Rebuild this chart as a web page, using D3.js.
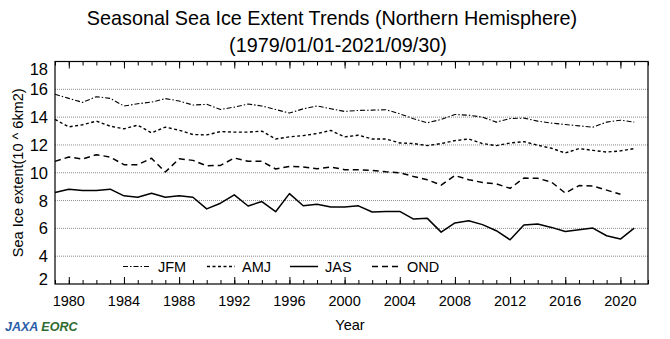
<!DOCTYPE html>
<html>
<head>
<meta charset="utf-8">
<script src="https://cdn.jsdelivr.net/npm/d3@7"></script>
<style>
  body { margin: 0; background: #fff; }
  svg text { font-family: "Liberation Sans", Arial, Helvetica, sans-serif; fill: #000; }
</style>
</head>
<body>
<div id="seaIceGraph"></div>
<script>
// Seasonal mean sea ice extent, Northern Hemisphere (10^6 km2)
var seaIceYears = d3.range(1979, 2022);

var seaIceJFM = [15.64, 15.35, 15.06, 15.47, 15.35, 14.80, 14.96, 15.08, 15.33, 15.16,
  14.87, 14.92, 14.55, 14.72, 14.94, 14.80, 14.55, 14.29, 14.60, 14.80,
  14.60, 14.41, 14.48, 14.50, 14.53, 14.24, 13.88, 13.59, 13.83, 14.19,
  14.14, 14.00, 13.64, 13.90, 13.93, 13.71, 13.57, 13.47, 13.37, 13.28,
  13.64, 13.78, 13.64];

var seaIceAMJ = [13.83, 13.30, 13.45, 13.71, 13.35, 13.16, 13.42, 12.87, 13.28, 13.06,
  12.75, 12.72, 12.96, 12.92, 12.92, 12.99, 12.43, 12.58, 12.67, 12.82,
  13.04, 12.58, 12.70, 12.43, 12.43, 12.14, 12.10, 11.95, 12.10, 12.31,
  12.43, 12.10, 11.95, 12.14, 12.24, 11.98, 11.76, 11.42, 11.74, 11.61,
  11.49, 11.57, 11.74];

var seaIceJAS = [8.58, 8.82, 8.72, 8.72, 8.82, 8.34, 8.24, 8.53, 8.24, 8.34,
  8.24, 7.40, 7.81, 8.41, 7.61, 7.93, 7.20, 8.50, 7.63, 7.73,
  7.54, 7.54, 7.62, 7.18, 7.22, 7.22, 6.67, 6.72, 5.73, 6.39,
  6.55, 6.27, 5.83, 5.18, 6.24, 6.31, 6.07, 5.78, 5.90, 6.02,
  5.47, 5.23, 6.02];

// OND 2021 not available yet
var seaIceOND = [10.82, 11.13, 10.99, 11.30, 11.13, 10.58, 10.58, 11.04, 10.05, 11.01,
  10.89, 10.50, 10.53, 11.06, 10.82, 10.82, 10.27, 10.46, 10.41, 10.29,
  10.41, 10.22, 10.22, 10.17, 10.07, 10.00, 9.73, 9.49, 9.11, 9.80,
  9.50, 9.30, 9.20, 8.88, 9.62, 9.60, 9.33, 8.54, 9.08, 9.05,
  8.75, 8.45];

var seaIceSeasonNames = ["JFM", "AMJ", "JAS", "OND"];
var seaIceYTicks = [2, 4, 6, 8, 10, 12, 14, 16, 18];
var seaIceXTicks = [1980, 1984, 1988, 1992, 1996, 2000, 2004, 2008, 2012, 2016, 2020];
var seaIceGridValues = [4, 6, 8, 10, 12, 14, 16];

var seaIceSeries = [
  { name: "JFM", values: seaIceJFM, dash: "5,2,1.5,2", width: 1.1 },
  { name: "AMJ", values: seaIceAMJ, dash: "3,2.5", width: 1.4 },
  { name: "JAS", values: seaIceJAS, dash: null, width: 1.5 },
  { name: "OND", values: seaIceOND, dash: "6,4", width: 1.5 }
];

var seaIceGraphWidth = 670, seaIceGraphHeight = 339;
var seaIceGraphMargin = { top: 61.5, right: 22, bottom: 55, left: 55 };
var seaIcePlotWidth = seaIceGraphWidth - seaIceGraphMargin.left - seaIceGraphMargin.right;
var seaIcePlotHeight = seaIceGraphHeight - seaIceGraphMargin.top - seaIceGraphMargin.bottom;

var seaIceXCoordinate = d3.scaleLinear().domain([1979, 2022]).range([0, seaIcePlotWidth]);
var seaIceYCoordinate = d3.scaleLinear().domain([2, 18]).range([seaIcePlotHeight, 0]);

var seaIceGraphSVG = d3.select("#seaIceGraph")
  .append("svg")
  .attr("width", seaIceGraphWidth)
  .attr("height", seaIceGraphHeight);

// Title
seaIceGraphSVG.append("text")
  .attr("x", 332).attr("y", 25)
  .attr("text-anchor", "middle")
  .style("font-size", "19.8px")
  .text("Seasonal Sea Ice Extent Trends (Northern Hemisphere)");

seaIceGraphSVG.append("text")
  .attr("x", 338).attr("y", 52)
  .attr("text-anchor", "middle")
  .style("font-size", "19.8px")
  .text("(1979/01/01-2021/09/30)");

var seaIcePlot = seaIceGraphSVG.append("g")
  .attr("transform", "translate(" + seaIceGraphMargin.left + "," + seaIceGraphMargin.top + ")");

// Dotted grid lines
seaIcePlot.selectAll(".grid")
  .data(seaIceGridValues)
  .enter().append("line")
  .attr("class", "grid")
  .attr("x1", 0).attr("x2", seaIcePlotWidth)
  .attr("y1", function (d) { return seaIceYCoordinate(d); })
  .attr("y2", function (d) { return seaIceYCoordinate(d); })
  .attr("stroke", "#8a8a8a")
  .attr("stroke-width", 1)
  .attr("stroke-dasharray", "1,1");

// Year ticks on bottom and top, pointing inward
var seaIceMinorYears = d3.range(1979, 2023);
var seaIceBottomAxis = d3.axisBottom(seaIceXCoordinate)
  .tickValues(seaIceMinorYears)
  .tickSize(-4)
  .tickFormat("");
var seaIceTopAxis = d3.axisTop(seaIceXCoordinate)
  .tickValues(seaIceMinorYears)
  .tickSize(-4)
  .tickFormat("");

seaIcePlot.append("g")
  .attr("class", "x axis")
  .attr("transform", "translate(0," + seaIcePlotHeight + ")")
  .call(seaIceBottomAxis);

seaIcePlot.append("g")
  .attr("class", "x axis")
  .call(seaIceTopAxis);

// longer ticks at the labelled years
seaIcePlot.append("g")
  .attr("transform", "translate(0," + seaIcePlotHeight + ")")
  .call(d3.axisBottom(seaIceXCoordinate).tickValues(seaIceXTicks).tickSize(-7).tickFormat(""));
seaIcePlot.append("g")
  .call(d3.axisTop(seaIceXCoordinate).tickValues(seaIceXTicks).tickSize(-7).tickFormat(""));

seaIcePlot.selectAll(".domain").remove();
seaIcePlot.selectAll(".tick line").attr("stroke", "#000");

// X tick labels
seaIcePlot.selectAll(".xlabel")
  .data(seaIceXTicks)
  .enter().append("text")
  .attr("class", "xlabel")
  .attr("x", function (d) { return seaIceXCoordinate(d); })
  .attr("y", seaIcePlotHeight + 22)
  .attr("text-anchor", "middle")
  .style("font-size", "14.5px")
  .text(function (d) { return d; });

// Y tick labels, end labels kept inside the frame height
seaIcePlot.selectAll(".ylabel")
  .data(seaIceYTicks)
  .enter().append("text")
  .attr("class", "ylabel")
  .attr("x", -7)
  .attr("y", function (d) {
    var yPos = seaIceYCoordinate(d);
    return Math.min(Math.max(yPos, 8), seaIcePlotHeight - 5);
  })
  .attr("dy", "0.36em")
  .attr("text-anchor", "end")
  .style("font-size", "16.5px")
  .text(function (d) { return d; });

// Define the lines
var seaIceLine = d3.line()
  .x(function (d, i) { return seaIceXCoordinate(seaIceYears[i]); })
  .y(function (d) { return seaIceYCoordinate(d); });

seaIcePlot.selectAll(".season")
  .data(seaIceSeries)
  .enter().append("path")
  .attr("class", "season")
  .attr("fill", "none")
  .attr("stroke", "#000")
  .attr("stroke-width", function (d) { return d.width; })
  .attr("stroke-dasharray", function (d) { return d.dash; })
  .attr("stroke-linejoin", "round")
  .attr("d", function (d) { return seaIceLine(d.values); });

// Frame
seaIcePlot.append("rect")
  .attr("x", 0).attr("y", 0)
  .attr("width", seaIcePlotWidth).attr("height", seaIcePlotHeight)
  .attr("fill", "none")
  .attr("stroke", "#000")
  .attr("stroke-width", 1.2);

// Legend
var seaIceLegendX = [68, 152, 235, 317];
var seaIceLegend = seaIcePlot.selectAll(".legend")
  .data(seaIceSeries)
  .enter().append("g")
  .attr("class", "legend")
  .attr("transform", function (d, i) { return "translate(" + seaIceLegendX[i] + "," + (seaIcePlotHeight - 17.5) + ")"; });

seaIceLegend.append("line")
  .attr("x1", 0).attr("x2", 28)
  .attr("y1", 0).attr("y2", 0)
  .attr("stroke", "#000")
  .attr("stroke-width", function (d) { return d.width; })
  .attr("stroke-dasharray", function (d) { return d.dash; });

seaIceLegend.append("text")
  .attr("x", 35).attr("y", 0)
  .attr("dy", "0.36em")
  .style("font-size", "14.5px")
  .text(function (d, i) { return seaIceSeasonNames[i]; });

// Axis titles
seaIceGraphSVG.append("text")
  .attr("x", 350).attr("y", 330)
  .attr("text-anchor", "middle")
  .style("font-size", "14.5px")
  .text("Year");

seaIceGraphSVG.append("text")
  .attr("transform", "translate(23," + (seaIceGraphMargin.top + seaIcePlotHeight / 2) + ") rotate(-90)")
  .attr("text-anchor", "middle")
  .style("font-size", "14.5px")
  .text("Sea Ice extent(10 ^ 6km2)");

// Agency mark
var seaIceMark = seaIceGraphSVG.append("text")
  .attr("x", 5).attr("y", 331)
  .style("font-size", "12.5px")
  .style("font-weight", "bold")
  .style("font-style", "italic");
seaIceMark.append("tspan").style("fill", "#2a5caa").text("JAXA ");
seaIceMark.append("tspan").style("fill", "#2f6b2f").text("EORC");
</script>
</body>
</html>
